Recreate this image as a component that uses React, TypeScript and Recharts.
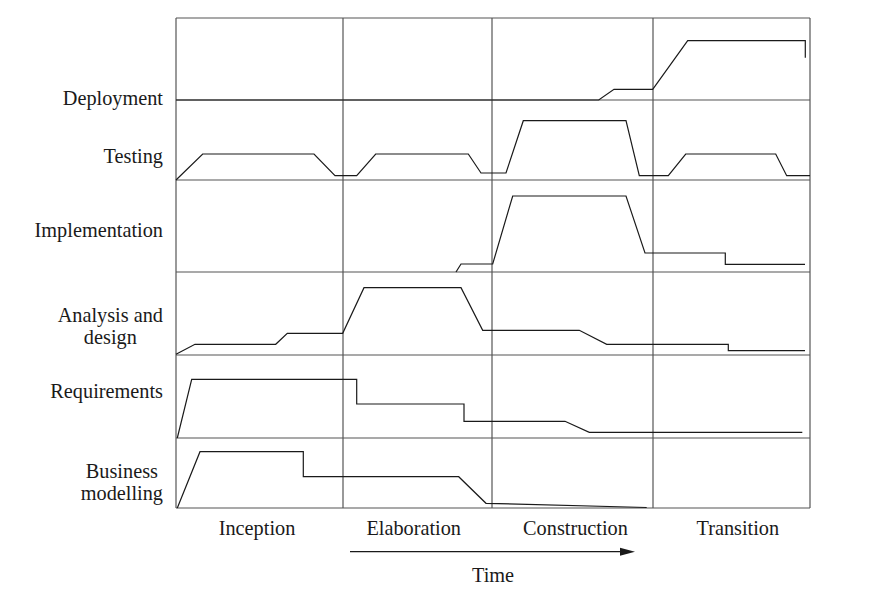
import { LineChart, Line, XAxis, YAxis, CartesianGrid, ReferenceLine } from 'recharts'

const FONT = '"Liberation Serif", "Times New Roman", serif'
const FS = 20.3

// time runs 0..634 across the four phases
const phases = ['Inception', 'Elaboration', 'Construction', 'Transition']
const phaseCenters = [81, 237.7, 399.5, 561.8]
const phaseEdges = [0, 167, 316, 477, 634]

// lanes from the bottom up
const laneEdges = [0, 70, 153, 236, 328, 408, 490]
const laneLabels = [['Business', 'modelling'], ['Requirements'], ['Analysis and', 'design'], ['Implementation'], ['Testing'], ['Deployment']]
const laneLabelY = [29.7, 109.7, 186.3, 271.3, 345.3, 403]

// effort per discipline: [time, effort above lane base]
const businessModelling = [[1.3, 0], [24, 56.3], [127.3, 56.3], [127.3, 31.3], [282.7, 31.3], [310, 4.7], [470.7, 0.5]]
const requirements = [[1.3, 0], [15.7, 58.7], [180.7, 58.7], [180.7, 34], [288, 34], [288, 16.7], [389, 16.7], [413.3, 5.7], [626.3, 5.7]]
const analysisDesign = [[0, 0.7], [19, 10.7], [99.7, 10.7], [111.3, 21.7], [166.7, 21.7], [188, 67.3], [285, 67.3], [306.7, 24.7], [403.3, 24.7], [430.7, 10.7], [552.3, 10.7], [552.3, 4.3], [629, 4.3]]
const implementation = [[280, 0], [285, 8], [316.7, 8], [336.7, 76], [450, 76], [469, 19], [549.3, 19], [549.3, 7.7], [629, 7.7]]
const testing = [[0, 0], [26.7, 26], [138, 26], [159, 4.3], [180.7, 4.3], [199.7, 26], [292.3, 26], [305, 7], [330, 7], [347.3, 59.3], [450, 59.3], [463.3, 4.3], [492.3, 4.3], [509.7, 26], [599.7, 26], [610.7, 4.3], [634, 4.3]]
const deployment = [[0, 0], [422.7, 0], [438, 10.7], [476.7, 10.7], [511.7, 59.3], [629.3, 59.3], [629.3, 42.3]]

const disciplines = [businessModelling, requirements, analysisDesign, implementation, testing, deployment]

const timeArrow = [174, 459]
const timeArrowY = -43.7

let ctx: CanvasRenderingContext2D | null = null
function measure(s: string) {
  if (!ctx) ctx = document.createElement('canvas').getContext('2d')
  if (!ctx) return s.length * FS * 0.5
  ctx.font = `${FS}px "Liberation Serif"`
  return ctx.measureText(s).width
}

function LaneTick({ x, y, payload }: any) {
  const i = laneLabelY.indexOf(payload.value)
  const lines = laneLabels[i] || []
  const w = Math.max(...lines.map(measure))
  const cx = x - w / 2
  return (
    <text x={cx} y={y} textAnchor="middle" fontFamily={FONT} fontSize={FS} fill="#1a1a1a">
      {lines.map((l, k) => (
        <tspan key={l} x={cx} dy={k ? 22 : 0}>{l}</tspan>
      ))}
    </text>
  )
}

function PhaseTick({ x, y, payload }: any) {
  const i = phaseCenters.indexOf(payload.value)
  return (
    <text x={x} y={y + 27} textAnchor="middle" fontFamily={FONT} fontSize={FS} fill="#1a1a1a">
      {phases[i]}
    </text>
  )
}

function TimeLabel({ viewBox }: any) {
  return (
    <text x={viewBox.x + viewBox.width / 2} y={viewBox.y + 74} textAnchor="middle" fontFamily={FONT} fontSize={FS} fill="#1a1a1a">
      Time
    </text>
  )
}

function Arrow({ x1, y1, x2, y2 }: any) {
  return (
    <g>
      <line x1={x1} y1={y1} x2={x2 - 10} y2={y2} stroke="#1a1a1a" strokeWidth={1.3} />
      <polygon points={`${x2},${y2} ${x2 - 15},${y2 - 4} ${x2 - 15},${y2 + 4}`} fill="#1a1a1a" />
    </g>
  )
}

export default function App() {
  const series = disciplines.map((pts, i) => pts.map(([x, v]) => ({ x, y: laneEdges[i] + v })))
  return (
    <div style={{ position: 'absolute', left: 0, top: 0, background: '#fff' }}>
      <LineChart width={886} height={600} margin={{ top: 18, right: 76, bottom: 0, left: 0 }}>
        <CartesianGrid horizontalValues={laneEdges} verticalValues={phaseEdges} stroke="#555" strokeWidth={1.2} />
        <XAxis
          type="number"
          dataKey="x"
          domain={[0, 634]}
          ticks={phaseCenters}
          interval={0}
          height={92}
          axisLine={false}
          tickLine={false}
          tickSize={0}
          tickMargin={0}
          tick={<PhaseTick />}
          label={{ content: <TimeLabel /> }}
        />
        <YAxis
          type="number"
          domain={[0, 490]}
          ticks={laneLabelY}
          interval={0}
          width={176}
          axisLine={false}
          tickLine={false}
          tickSize={0}
          tickMargin={13}
          tick={<LaneTick />}
        />
        {series.map((d, i) => (
          <Line
            key={i}
            data={d}
            dataKey="y"
            type="linear"
            dot={false}
            activeDot={false}
            stroke="#1a1a1a"
            strokeWidth={1.2}
            isAnimationActive={false}
          />
        ))}
        <ReferenceLine
          segment={[{ x: timeArrow[0], y: timeArrowY }, { x: timeArrow[1], y: timeArrowY }]}
          ifOverflow="visible"
          shape={<Arrow />}
        />
      </LineChart>
    </div>
  )
}
